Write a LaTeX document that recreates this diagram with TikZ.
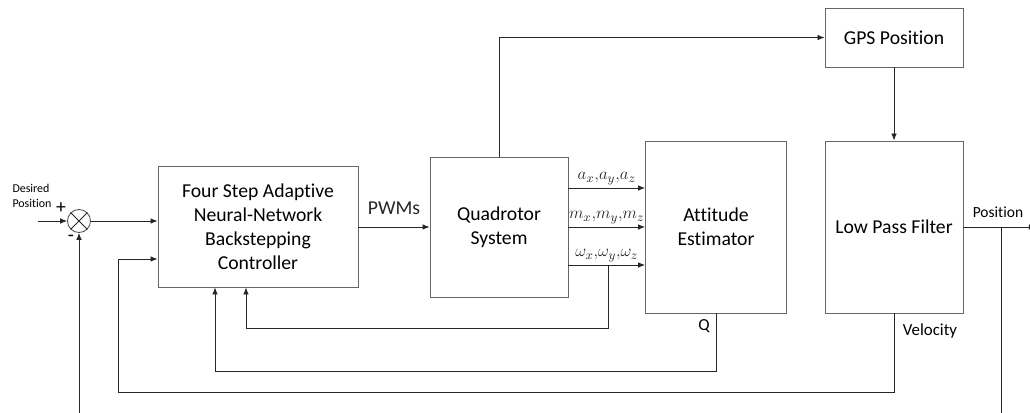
\documentclass[tikz,border=0pt]{standalone}
\usepackage{fontspec}
\setmainfont[Ligatures=NoCommon]{Carlito}
\usetikzlibrary{arrows.meta,positioning}

\begin{document}
\begin{tikzpicture}[
    x=0.025cm, y=-0.025cm,
    blk/.style={draw=black!60, line width=0.6pt, align=center,
                font=\fontsize{14}{17}\selectfont, inner sep=0pt},
    arr/.style={-{Latex[length=5pt,width=4pt]}, line width=0.6pt, black!85},
    wire/.style={line width=0.6pt, black!85},
    lbl/.style={font=\fontsize{12}{14}\selectfont, inner sep=2pt},
    sig/.style={font=\fontsize{13}{15}\selectfont, inner sep=2pt}
  ]
    \useasboundingbox (0,0) rectangle (1030,413);

    % Blocks
    \node[blk, minimum width=5cm, minimum height=3.025cm] (ctrl) at (258,226.5)
      {Four Step Adaptive\\Neural-Network\\Backstepping\\Controller};
    \node[blk, minimum width=3.45cm, minimum height=3.5cm] (quad) at (499,227)
      {Quadrotor\\System};
    \node[blk, minimum width=3.525cm, minimum height=4.3cm] (att) at (716,227)
      {Attitude\\Estimator};
    \node[blk, minimum width=3.45cm, minimum height=1.475cm] (gps) at (894,37.5)
      {GPS Position};
    \node[blk, minimum width=3.45cm, minimum height=4.3cm] (lpf) at (894,227)
      {Low Pass Filter};

    % Summing junction
    \node[circle, draw=black!70, line width=0.6pt, minimum size=0.575cm,
          inner sep=0pt] (sum) at (79,221) {};
    \draw[wire] (sum.north east) -- (sum.south west)
                (sum.north west) -- (sum.south east);
    \node[font=\fontsize{8.5}{10.5}\selectfont, align=left] (ref) at (32,196)
      {Desired\\Position};
    \node[font=\fontsize{14}{14}\selectfont] (plus) at (61,208) {+};
    \node[font=\fontsize{14}{14}\selectfont] (minus) at (71,238) {-};

    \coordinate (rin) at (38,221);
    \coordinate (rfb) at (79,414);
    \draw[arr] (rin) -- (sum.west);
    \draw[arr] (rfb) -- (sum.south);
    \draw[arr] (sum.east) -- (ctrl.west |- sum);

    % Controller to plant
    \draw[arr] (ctrl.east |- 0,227) -- (quad.west |- 0,227)
      node[font=\fontsize{14}{16}\selectfont, midway, above=5pt] (pwm) {PWMs};

    % Sensor outputs
    \foreach \y/\txt [count=\i] in {188/{a_x{,}a_y{,}a_z},
                                   227/{m_x{,}m_y{,}m_z},
                                   265/{\omega_x{,}\omega_y{,}\omega_z}} {
      \coordinate (s\i) at (quad.east |- 0,\y);
      \draw[arr] (s\i) -- (att.west |- s\i)
        node[sig, midway, above] {$\txt$};
    }

    % GPS branch
    \draw[arr] (quad.north) |- (gps.west);
    \draw[arr] (gps.south) -- (lpf.north);

    % Position output
    \coordinate (pout) at (1036,227);
    \coordinate (ptap) at (1001,227);
    \coordinate (pbot) at (1001,414);
    \draw[arr] (lpf.east |- pout) -- (pout);
    \draw[wire] (ptap) -- (pbot);
    \node[font=\fontsize{11}{13}\selectfont] (posl) at (998,212) {Position};

    % Gyro feedback
    \coordinate (wtap) at (608,265);
    \coordinate (wb) at (246,328);
    \draw[arr] (wtap) |- (wb) -- (wb |- ctrl.south);

    % Attitude feedback
    \coordinate (qb) at (215,371);
    \draw[arr] (att.south) |- (qb) -- (qb |- ctrl.south);
    \node[lbl] (ql) at (704,326) {Q};

    % Velocity feedback
    \coordinate (vb) at (118,392);
    \coordinate (vin) at (ctrl.west |- 0,259);
    \draw[arr] (lpf.south) |- (vb) |- (vin);
    \node[lbl] (vell) at (930,331) {Velocity};
\end{tikzpicture}
\end{document}
